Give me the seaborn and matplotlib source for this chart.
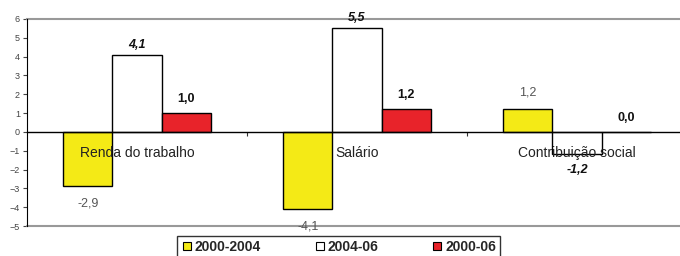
import pandas as pd
import seaborn as sns
import matplotlib.pyplot as plt
from matplotlib.lines import Line2D

# dados
categorias = ["Renda do trabalho", "Salário", "Contribuição social"]
periodos = ["2000-2004", "2004-06", "2000-06"]
v_2000_2004 = [-2.9, -4.1, 1.2]
v_2004_06 = [4.1, 5.5, -1.2]
v_2000_06 = [1.0, 1.2, 0.0]

cores = ["#F4EA16", "#FFFFFF", "#E8232A"]

df = pd.DataFrame({
    "categoria": categorias * 3,
    "periodo": [periodos[0]] * 3 + [periodos[1]] * 3 + [periodos[2]] * 3,
    "valor": v_2000_2004 + v_2004_06 + v_2000_06,
})

sns.set_style("white")
plt.rcParams["font.family"] = ["Liberation Sans", "DejaVu Sans"]

fig = plt.figure(figsize=(6.8, 2.56), dpi=100)
ax = fig.add_axes([27 / 680, 30 / 256, 660 / 680, 207 / 256])

sns.barplot(data=df, x="categoria", y="valor", hue="periodo", palette=cores,
            width=0.67, gap=0, edgecolor="black", linewidth=1, ax=ax,
            legend=False, saturation=1)

ax.set_ylim(-5, 6)
ax.set_xlim(-0.5, 2.5)
ax.set_yticks(range(-5, 7))
ax.tick_params(axis="y", labelsize=6.5, colors="#444444", length=3, direction="out",
               left=True, pad=2)
ax.set_xlabel("")
ax.set_ylabel("")

# eixo x na linha do zero
ax.spines["bottom"].set_position(("data", 0))
ax.spines["bottom"].set_color("black")
ax.spines["bottom"].set_linewidth(1)
ax.set_xticks([0.5, 1.5])
ax.set_xticklabels([])
ax.tick_params(axis="x", bottom=True, length=3, direction="out", color="#333333")
ax.spines["left"].set_color("black")
ax.spines["left"].set_zorder(5)
ax.spines["top"].set_color("#999999")
ax.spines["top"].set_linewidth(1.5)
ax.spines["right"].set_visible(False)
ax.axhline(-5, color="#999999", lw=1.5, clip_on=False)

# rotulos das categorias
for i, c in enumerate(categorias):
    ax.text(i, -1.1, c, ha="center", va="center", fontsize=10, color="#222222", zorder=6)

# rotulos dos valores (afastamento acima / abaixo)
estilos = [
    dict(color="#555555", fontweight="normal", fontstyle="normal", pad=(8, 8)),
    dict(color="#111111", fontweight="bold", fontstyle="italic", pad=(3, 7)),
    dict(color="#111111", fontweight="bold", fontstyle="normal", pad=(6, 6)),
]
for cont, est in zip(ax.containers, estilos):
    for barra in cont:
        h = barra.get_height()
        x = barra.get_x() + barra.get_width() / 2
        if h >= 0:
            off, va = est["pad"][0], "bottom"
        else:
            off, va = -est["pad"][1], "top"
        ax.annotate(f"{h:.1f}".replace(".", ","), (x, h),
                    xytext=(0, off), textcoords="offset points",
                    ha="center", va=va,
                    fontsize=9, color=est["color"], fontweight=est["fontweight"],
                    fontstyle=est["fontstyle"], annotation_clip=False)

# legenda
handles = [Line2D([], [], marker="s", linestyle="", markersize=6,
                  markerfacecolor=c, markeredgecolor="black", markeredgewidth=0.8)
           for c in cores]
leg = fig.legend(handles, periodos, loc="upper center", bbox_to_anchor=(0.498, 0.078),
                 ncol=3, prop={"size": 10, "weight": "bold"}, frameon=True, fancybox=False,
                 columnspacing=3.8, handletextpad=0.2, handlelength=0.8,
                 borderpad=0.3, borderaxespad=0)
leg.get_frame().set_edgecolor("black")
leg.get_frame().set_linewidth(1)

fig.savefig("out.png", dpi=100)
